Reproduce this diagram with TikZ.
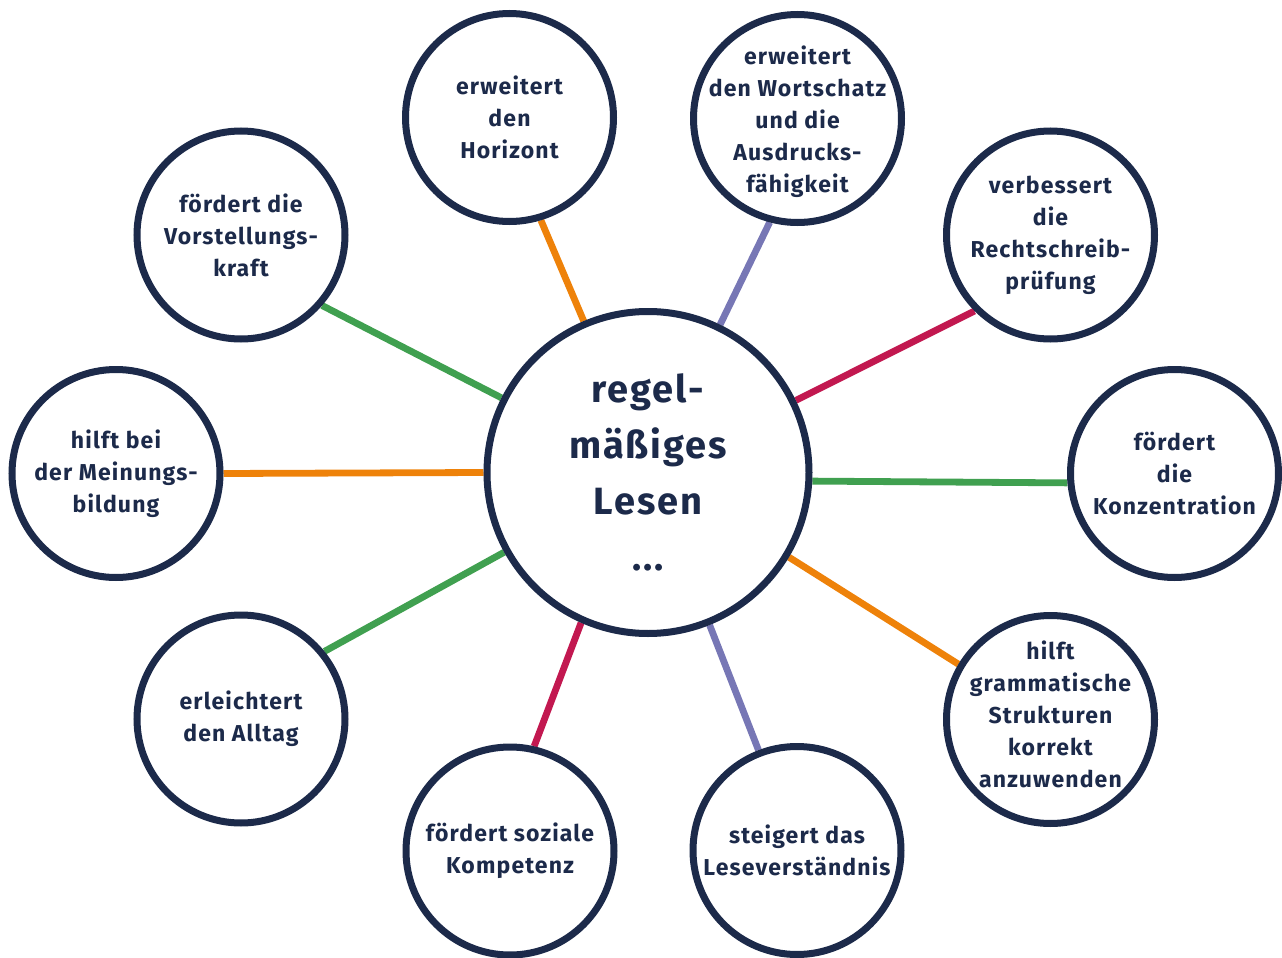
\documentclass[tikz,border=0pt]{standalone}
\usepackage{fontspec}
\setmainfont[LetterSpace=5]{Fira Sans}
\usetikzlibrary{backgrounds}
\definecolor{navy}{RGB}{28,42,74}
\definecolor{corange}{RGB}{238,130,10}
\definecolor{clav}{RGB}{119,119,181}
\definecolor{ccrim}{RGB}{194,24,80}
\definecolor{cgreen}{RGB}{64,160,80}
\tikzset{
  bubtext/.style={align=center, text=navy, inner sep=0pt, font=\bfseries\fontsize{11.5}{16}\selectfont},
  bubble/.style={circle, draw=navy, line width=3.5pt, fill=white, minimum size=104pt,
    inner sep=-30pt, align=center, text=navy, font=\bfseries\fontsize{11.5}{16}\selectfont},
  hub/.style={bubble, minimum size=161pt, font=\bfseries\fontsize{19}{28}\selectfont},
  conn/.style={line width=3.4pt}
}
\begin{document}
\begin{tikzpicture}[x=0.5pt, y=-0.5pt]
\useasboundingbox (0,0) rectangle (1282,958);
\node[hub] (c) at (648,472.5) {regel-\\mäßiges\\Lesen\\...};
\node[bubble] (hor) at (509.5,117.5) {erweitert\\den\\Horizont};
\node[bubble, label={[bubtext, yshift=-1.5pt]center:{erweitert\\den Wortschatz\\und die\\Ausdrucks-\\fähigkeit}}] (wor) at (797.5,118.5) {};
\node[bubble] (rec) at (1050.5,235) {verbessert\\die\\Rechtschreib-\\prüfung};
\node[bubble] (kon) at (1174.5,473.5) {fördert\\die\\Konzentration};
\node[bubble, label={[bubtext, yshift=2.5pt]center:{hilft\\grammatische\\Strukturen\\korrekt\\anzuwenden}}] (gra) at (1050.5,719.5) {};
\node[bubble] (les) at (797,850.5) {steigert das\\Leseverständnis};
\node[bubble] (kom) at (510,851) {fördert soziale\\Kompetenz};
\node[bubble] (all) at (241,719) {erleichtert\\den Alltag};
\node[bubble] (mei) at (116,473.5) {hilft bei\\der Meinungs-\\bildung};
\node[bubble] (vor) at (241,235) {fördert die\\Vorstellungs-\\kraft};
\begin{scope}[on background layer]
\draw[conn, corange] (c.113.75) -- (hor.-73.9);
\draw[conn, clav] (c.64.3) -- (wor.255.3);
\draw[conn, ccrim] (c.26.6) -- (rec.225.9);
\draw[conn, cgreen] (c.-3.7) -- (kon.185.1);
\draw[conn, corange] (c.-31.05) -- (gra.149.5);
\draw[conn, clav] (c.-68.9) -- (les.111.7);
\draw[conn, ccrim] (c.246.6) -- (kom.77.8);
\draw[conn, cgreen] (c.209) -- (all.39.5);
\draw[conn, corange] (c.180) -- (mei.0);
\draw[conn, cgreen] (c.153.3) -- (vor.-41.3);
\end{scope}
\end{tikzpicture}
\end{document}
